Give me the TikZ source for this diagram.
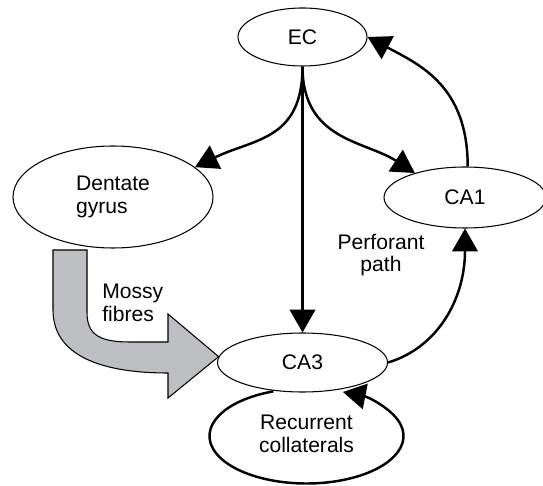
\documentclass[tikz,border=0pt]{standalone}
\usepackage{fontspec}
\setmainfont{Liberation Sans}
\usepackage{tikz}
\usetikzlibrary{shapes.geometric,arrows.meta}
\definecolor{mossygray}{RGB}{190,191,195}
\tikzset{
  area/.style={ellipse, draw, line width=0.6pt, inner sep=0pt, align=left},
  flow/.style={line width=1.4pt, -{Triangle[length=13pt,width=14.5pt]}},
  lbl/.style={inner sep=0pt}
}

\begin{document}
\begin{tikzpicture}[font=\fontsize{12}{13}\selectfont]
    \useasboundingbox (0,0) rectangle (10.86,9.7);
    \node[area, minimum width=2.58cm, minimum height=1.16cm] (EC) at (6.05,8.96) {EC};
    \node[area, minimum width=4cm, minimum height=2.04cm] (DG) at (2.26,5.76) {Dentate\\gyrus};
    \node[area, minimum width=3.24cm, minimum height=1.22cm] (CA1) at (9.3,5.75) {CA1};
    \node[area, minimum width=3.4cm, minimum height=1.18cm] (CA3) at (6.05,2.45) {CA3};
    \node[lbl, anchor=west, align=left] (MF) at (2.04,3.64) {Mossy\\fibres};
    \node[lbl, align=center] (PP) at (7.62,4.6) {Perforant\\path};
    \node[lbl, align=center] (RC) at (6.13,1.03) {Recurrent\\collaterals};
    % mossy fibres
    \filldraw[fill=mossygray, line width=0.6pt] (1.06,4.70) -- (1.06,3.50) .. controls (1.06,2.6) and (2.0,2.24) .. (3.36,2.24) -- (3.36,1.74) -- (CA3.176) -- (3.36,3.42) -- (3.36,2.86) -- (2.6,2.86) .. controls (2.0,2.86) and (1.74,3.0) .. (1.74,3.45) -- (1.74,4.70) -- cycle;
    % perforant path
    \draw[flow] (EC.south) .. controls +(0,-1.48) and +(1.17,0.57) .. (DG.20);
    \draw[flow] (EC.south) .. controls +(0,-1.48) and +(-1.0,0.65) .. (CA1.154);
    \draw[flow] (EC.south) -- (CA3.north);
    \draw[flow] (CA3.east) .. controls +(1.0,0.3) and +(0,-1.4) .. (CA1.south);
    \draw[flow] (CA1.85) .. controls +(0,1.6) and +(1.06,-0.56) .. (EC.east);
    % recurrent loop
    \draw[flow] ([yshift=-0.05cm]RC.center) ++(110:1.94cm and 0.95cm) arc[start angle=110, end angle=428, x radius=1.94cm, y radius=0.95cm];
\end{tikzpicture}
\end{document}
